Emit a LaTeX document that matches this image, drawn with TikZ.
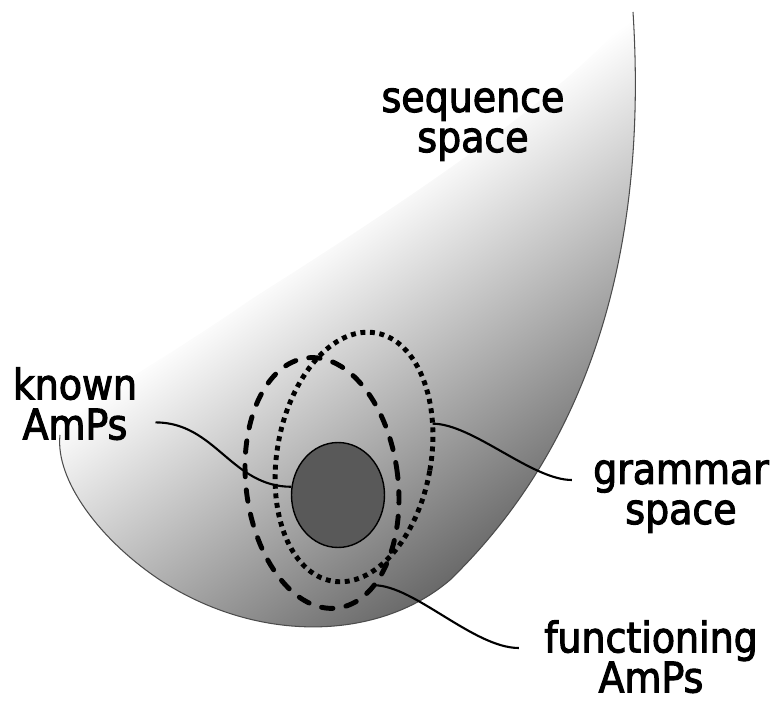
\documentclass[tikz,border=0pt]{standalone}
\usepackage{fontspec}
\setmainfont{DejaVu Sans Condensed}
\newfontfamily\labelfont{DejaVu Sans Condensed}[FakeBold=2.5]
\usetikzlibrary{shapes.geometric}

\tikzset{
  lbl/.style={font=\labelfont\fontsize{24}{22.8}\selectfont, align=center, inner sep=0pt},
  lead/.style={line width=1.2pt},
  oval/.style={ellipse, draw, inner sep=0pt, outer sep=0pt, line width=2.8pt},
}

\begin{document}
\begin{tikzpicture}[x=0.02cm, y=0.02cm]
  \useasboundingbox (0,0) rectangle (781,700);

  % the sequence space, light at the top left, dark at the bottom right
  \begin{scope}
    \clip (633,688) .. controls (645,500) and (615,280) .. (450,120)
      .. controls (380,60) and (260,55) .. (160,120)
      .. controls (100,160) and (55,220) .. (60,265)
      .. controls (75,295) and (150,330) .. (250,400)
      .. controls (400,495) and (560,600) .. (633,688) -- cycle;
    \shade[transform canvas={rotate=35}, top color=white, bottom color=black!75]
      (50,-260) rectangle (1050,195);
  \end{scope}
  \draw[black!70, line width=0.6pt] (633,688) .. controls (645,500) and (615,280) .. (450,120)
      .. controls (380,60) and (260,55) .. (160,120)
      .. controls (100,160) and (55,220) .. (60,265);

  % known, grammar and functioning sets
  \node[ellipse, draw, fill=black!65, line width=0.8pt, inner sep=0pt,
        minimum width=1.86cm, minimum height=2.1cm] (kno) at (338,205) {};
  \node[oval, dash pattern=on 6.5pt off 7.5pt, line cap=round,
        minimum width=3.04cm, minimum height=5.04cm, rotate=7] (fun) at (322,217) {};
  \node[oval, dash pattern=on 2.8pt off 2.65pt,
        minimum width=3.08cm, minimum height=5.04cm, rotate=-10] (gram) at (354,243) {};

  % labels
  \node[lbl, anchor=north] (seqtxt) at (473,612) {sequence\\space};
  \node[lbl, anchor=north] (knotxt) at (75,333) {known\\AmPs};
  \node[lbl, anchor=north] (gramtxt) at (681,240) {grammar\\space};
  \node[lbl, anchor=north] (funtxt) at (651,80) {functioning\\AmPs};

  \draw[lead] ([shift={(18,18)}]knotxt.south east) .. controls +(60,0) and +(-60,0) .. (kno.170);
  \draw[lead] (gram.33) .. controls +(40,0) and +(-40,0) .. ([shift={(-21,-20)}]gramtxt.north west);
  \draw[lead] (fun.-70) .. controls +(40,0) and +(-45,0) .. ([shift={(-25,-28)}]funtxt.north west);
\end{tikzpicture}
\end{document}
